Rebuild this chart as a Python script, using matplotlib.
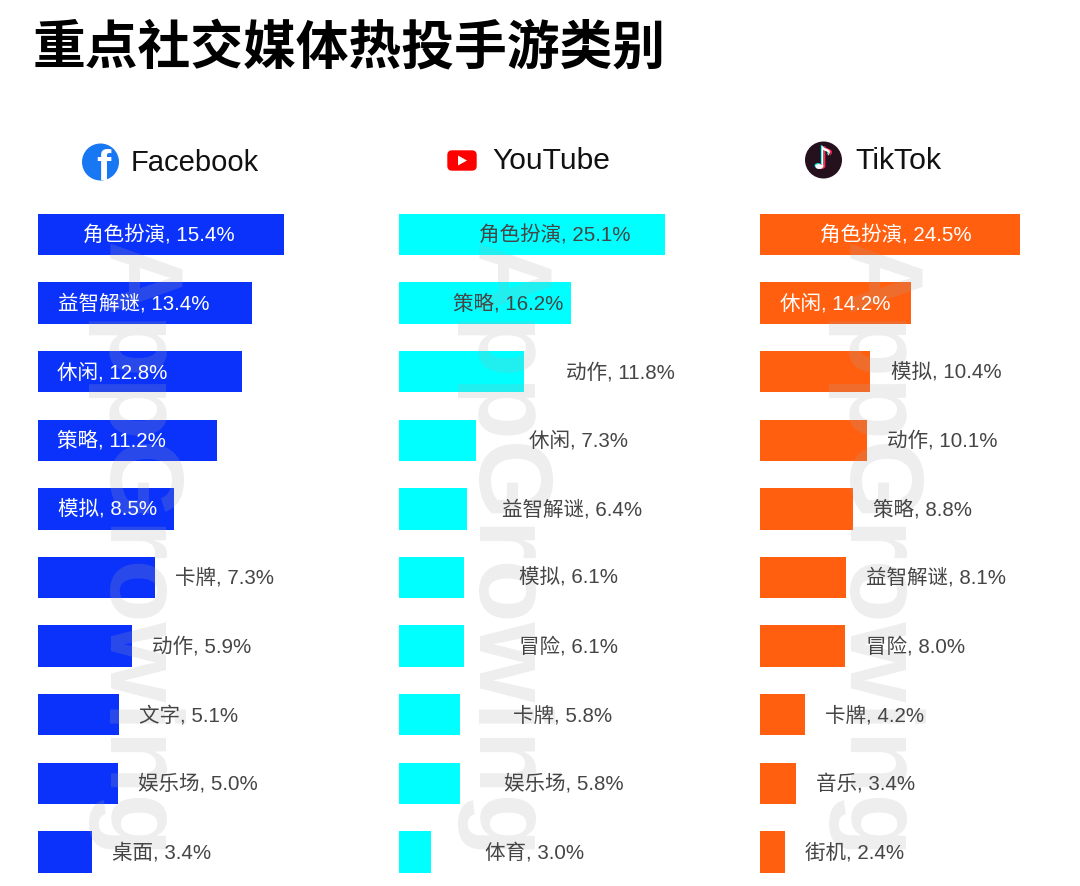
import matplotlib
matplotlib.use("Agg")
import matplotlib.pyplot as plt
from matplotlib.patches import Circle, FancyBboxPatch, Polygon

CJK = ['Noto Sans CJK SC', 'DejaVu Sans']
LABEL_FONT = ['Liberation Sans', 'Noto Sans CJK SC', 'DejaVu Sans']
title = "重点社交媒体热投手游类别"

fb_categories = ["角色扮演", "益智解谜", "休闲", "策略", "模拟", "卡牌", "动作", "文字", "娱乐场", "桌面"]
fb_values = [15.4, 13.4, 12.8, 11.2, 8.5, 7.3, 5.9, 5.1, 5.0, 3.4]
yt_categories = ["角色扮演", "策略", "动作", "休闲", "益智解谜", "模拟", "冒险", "卡牌", "娱乐场", "体育"]
yt_values = [25.1, 16.2, 11.8, 7.3, 6.4, 6.1, 6.1, 5.8, 5.8, 3.0]
tt_categories = ["角色扮演", "休闲", "模拟", "动作", "策略", "益智解谜", "冒险", "卡牌", "音乐", "街机"]
tt_values = [24.5, 14.2, 10.4, 10.1, 8.8, 8.1, 8.0, 4.2, 3.4, 2.4]

# label start, in pixels from the end of each bar (layout, not data)
fb_offsets = [-201, -194, -185, -160, -116, 20, 20, 20, 20, 20]
yt_offsets = [-186, -118, 42, 53, 35, 55, 55, 53, 44, 54]
tt_offsets = [-200, -131, 21, 20, 20, 20, 21, 20, 20, 20]

W, H = 1080, 886
DPI = 100
fig = plt.figure(figsize=(W / DPI, H / DPI), dpi=DPI, facecolor="white")

overlay = fig.add_axes([0, 0, 1, 1], zorder=5)
overlay.set_xlim(0, W)
overlay.set_ylim(H, 0)
overlay.axis("off")
overlay.patch.set_alpha(0)

ROW0, PITCH = 234.5, 68.6
TOP = ROW0 - PITCH / 2
px = 1 * 72 / DPI
INSIDE = {38: range(5), 399: [], 760: range(2)}


def panel(x0, pxper, cats, vals, offs, color, inside_color, wm_x):
    width = 330
    ax = fig.add_axes([x0 / W, 0, width / W, (H - TOP) / H], zorder=1)
    ax.set_xlim(0, width / pxper)
    ax.set_ylim((H - ROW0) / PITCH, -0.5)
    ax.axis("off")
    ax.barh(range(len(vals)), vals, height=0.605, color=color, zorder=1)
    ax.text(wm_x, 242, "AppGrowing", transform=overlay.transData, rotation=270,
            ha="left", va="top", family="Liberation Sans",
            fontweight="bold", fontsize=74,
            color=(170 / 255,) * 3, alpha=0.2, zorder=3, clip_on=False)
    for i, (c, v, o) in enumerate(zip(cats, vals, offs)):
        ax.annotate(f"{c}, {v}%", xy=(v, i), xytext=(o * px, 1.0),
                    textcoords="offset points", ha="left", va="center_baseline",
                    family=LABEL_FONT, fontsize=14.8,
                    color=inside_color if i in INSIDE[x0] else "#454545", zorder=5,
                    annotation_clip=False)


panel(38, 15.97, fb_categories, fb_values, fb_offsets, "#0A32FA", "white", 85)
panel(399, 10.6, yt_categories, yt_values, yt_offsets, "#00FFFF", "#454545", 454)
panel(760, 10.6, tt_categories, tt_values, tt_offsets, "#FF5F0F", "white", 825)

fig.text(33 / W, 1 - 49 / H, title, family=CJK, fontweight="black", fontsize=38,
         color="black", va="center", ha="left", zorder=6)

for label, x, y, size in [("Facebook", 131, 163, 21), ("YouTube", 492, 161, 21.6), ("TikTok", 855, 161, 21.8)]:
    overlay.text(x, y, label, family="Liberation Sans", fontsize=size, color="#111111",
                 ha="left", va="center")

# Facebook icon
fb_circle = Circle((100.5, 162), 18.5, fc="#1877F2", ec="none")
overlay.add_patch(fb_circle)
fb_f = overlay.text(103, 169, "f", family="Liberation Sans", fontweight="bold", fontsize=31,
                    color="white", ha="center", va="center")
fb_f.set_clip_path(fb_circle)
# YouTube icon
overlay.add_patch(FancyBboxPatch((448, 151), 28, 19, boxstyle="round,pad=0,rounding_size=4",
                                 fc="#FF0000", ec="#FF0000", lw=1))
overlay.add_patch(Polygon([[458, 155.5], [458, 165.5], [467, 160.5]], fc="white", ec="none"))
# TikTok icon
overlay.add_patch(Circle((823.5, 160), 18.5, fc="#25101E", ec="none"))
for dx, dy, col in [(-1.2, -0.8, "#25F4EE"), (1.2, 0.8, "#FE2C55"), (0, 0, "white")]:
    overlay.text(822.5 + dx, 160 + dy, "♪", family="DejaVu Sans", fontweight="bold", fontsize=22,
                 color=col, ha="center", va="center")

fig.savefig("out.png", dpi=DPI, facecolor="white")
